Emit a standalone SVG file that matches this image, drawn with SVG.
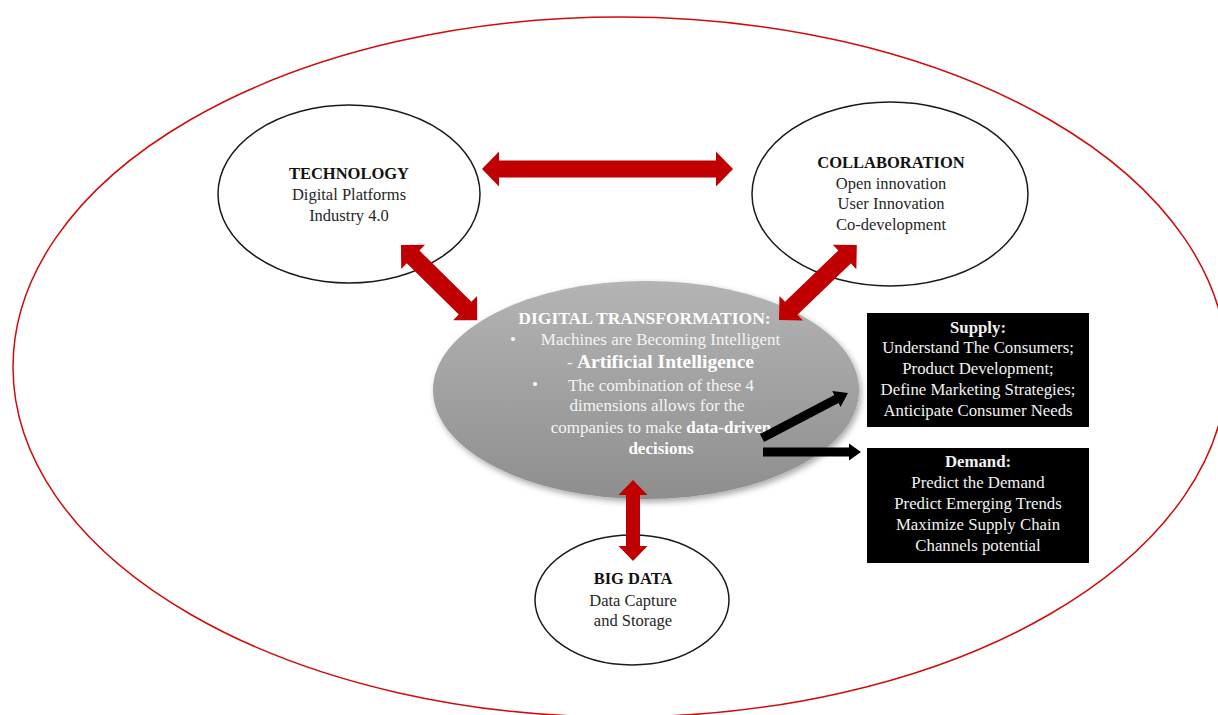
<svg xmlns="http://www.w3.org/2000/svg" width="1218" height="715" viewBox="0 0 1218 715">
  <defs>
    <linearGradient id="grayGrad" x1="0" y1="0" x2="0" y2="1">
      <stop offset="0" stop-color="#b4b4b4"/>
      <stop offset="1" stop-color="#8e8e8e"/>
    </linearGradient>
    <filter id="softShadow" x="-10%" y="-10%" width="120%" height="130%">
      <feDropShadow dx="2" dy="3" stdDeviation="3" flood-color="#000" flood-opacity="0.35"/>
    </filter>
  </defs>
  <style>
    .outer { fill: none; stroke: #d10a0a; stroke-width: 1.5; }
    .node { fill: #ffffff; stroke: #1a1a1a; stroke-width: 1.5; }
    .t { font-family: "Liberation Serif", "Times New Roman", serif; font-size: 16.5px; fill: #262626; text-anchor: middle; }
    .tb { font-weight: bold; fill: #111111; }
    .ct { font-family: "Liberation Serif", "Times New Roman", serif; font-size: 17px; fill: #f4f4f4; text-anchor: middle; }
    .cb { font-family: "Liberation Serif", "Times New Roman", serif; font-weight: bold; fill: #ffffff; }
    .ai { font-family: "Liberation Serif", "Times New Roman", serif; font-weight: bold; font-size: 19.5px; fill: #ffffff; }
    .hd { font-size: 17.5px; }
    .box { fill: #000000; }
    .bt { font-family: "Liberation Serif", "Times New Roman", serif; font-size: 16.8px; fill: #f2f2f2; text-anchor: middle; }
    .red { fill: #c00000; }
    .blk { fill: #000000; }
  </style>

  <ellipse id="boundary" class="outer" cx="620" cy="367" rx="607" ry="350"/>

  <g id="technology">
    <ellipse class="node" cx="349" cy="194" rx="131" ry="89"/>
    <text class="t tb" x="349" y="179">TECHNOLOGY</text>
    <text class="t" x="349" y="200">Digital Platforms</text>
    <text class="t" x="349" y="221">Industry 4.0</text>
  </g>

  <g id="collaboration">
    <ellipse class="node" cx="890" cy="194" rx="138" ry="92"/>
    <text class="t tb" x="891" y="168">COLLABORATION</text>
    <text class="t" x="891" y="189">Open innovation</text>
    <text class="t" x="891" y="209">User Innovation</text>
    <text class="t" x="891" y="230">Co-development</text>
  </g>

  <g id="big-data">
    <ellipse class="node" cx="632" cy="600" rx="97" ry="65"/>
    <text class="t tb" x="633" y="584">BIG DATA</text>
    <text class="t" x="633" y="606">Data Capture</text>
    <text class="t" x="633" y="626">and Storage</text>
  </g>

  <g id="digital-transformation">
    <ellipse cx="646" cy="390" rx="213" ry="109" fill="url(#grayGrad)" filter="url(#softShadow)"/>
    <text class="ct cb hd" x="644.5" y="324">DIGITAL TRANSFORMATION:</text>
    <text class="ct" x="513" y="345">•</text>
    <text class="ct" x="660.5" y="345">Machines are Becoming Intelligent</text>
    <text class="ct" x="660.5" y="368">- <tspan class="ai">Artificial Intelligence</tspan></text>
    <text class="ct" x="535" y="390">•</text>
    <text class="ct" x="661" y="391">The combination of these 4</text>
    <text class="ct" x="657" y="411">dimensions allows for the</text>
    <text class="ct" x="661" y="433">companies to make <tspan class="cb">data-driven</tspan></text>
    <text class="ct cb" x="661" y="454">decisions</text>
  </g>

  <g id="supply">
    <rect class="box" x="867" y="313" width="222" height="114"/>
    <text class="bt cb" x="978" y="333">Supply:</text>
    <text class="bt" x="978" y="353">Understand The Consumers;</text>
    <text class="bt" x="978" y="374">Product Development;</text>
    <text class="bt" x="978" y="395">Define Marketing Strategies;</text>
    <text class="bt" x="978" y="416">Anticipate Consumer Needs</text>
  </g>

  <g id="demand">
    <rect class="box" x="867" y="448" width="222" height="115"/>
    <text class="bt cb" x="978" y="467">Demand:</text>
    <text class="bt" x="978" y="488">Predict the Demand</text>
    <text class="bt" x="978" y="509">Predict Emerging Trends</text>
    <text class="bt" x="978" y="530">Maximize Supply Chain</text>
    <text class="bt" x="978" y="551">Channels potential</text>
  </g>

  <g id="connectors">
    <polygon class="red" transform="translate(482,169)" points="0,0 17,-17.5 17,-8.5 234,-8.5 234,-17.5 251,0 234,17.5 234,8.5 17,8.5 17,17.5"/>
    <polygon class="red" transform="translate(401,245) rotate(44.6)" points="0,0 17,-17 17,-9 90,-9 90,-17 107,0 90,17 90,9 17,9 17,17"/>
    <polygon class="red" transform="translate(779,320) rotate(-43.9)" points="0,0 17,-17 17,-9 91,-9 91,-17 108,0 91,17 91,9 17,9 17,17"/>
    <polygon class="red" transform="translate(633,480) rotate(90)" points="0,0 15,-14.5 15,-7 66,-7 66,-14.5 81,0 66,14.5 66,7 15,7 15,14.5"/>
    <polygon class="blk" transform="translate(762,438) rotate(-27.6)" points="0,-4.5 84,-4.5 84,-9 97,0 84,9 84,4.5 0,4.5"/>
    <polygon class="blk" transform="translate(763,452)" points="0,-4.5 86,-4.5 86,-8.5 98,0 86,8.5 86,4.5 0,4.5"/>
  </g>
</svg>
